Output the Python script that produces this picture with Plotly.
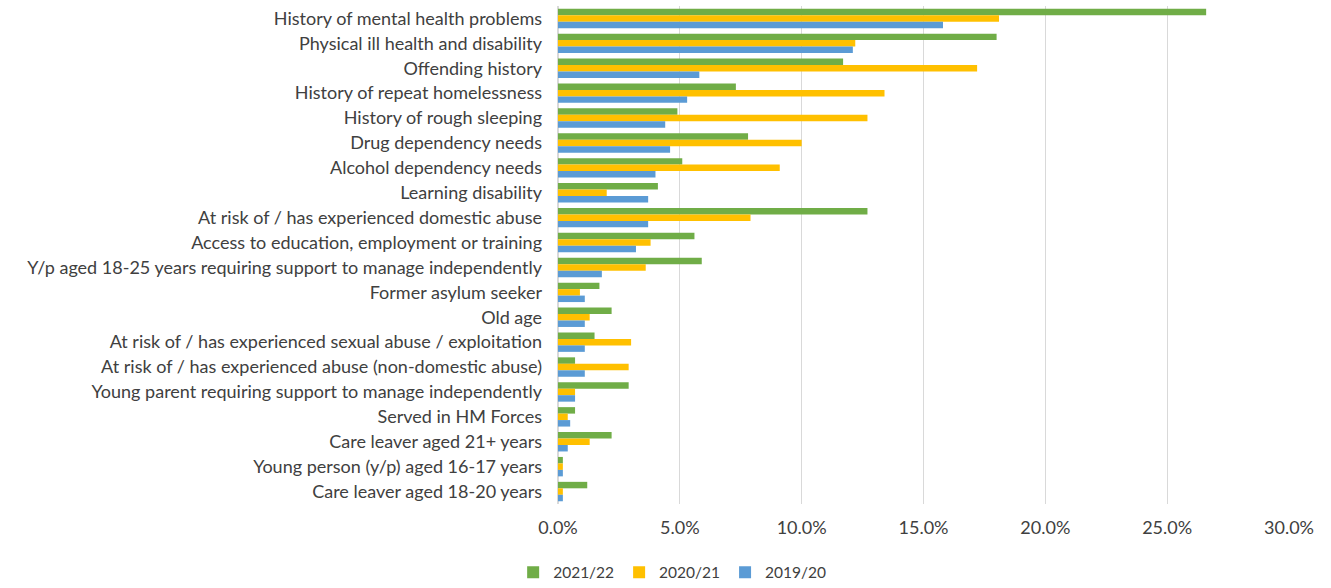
import plotly.graph_objects as go

categories = [
    "History of mental health problems",
    "Physical ill health and disability",
    "Offending history",
    "History of repeat homelessness",
    "History of rough sleeping",
    "Drug dependency needs",
    "Alcohol dependency needs",
    "Learning disability",
    "At risk of / has experienced domestic abuse",
    "Access to education, employment or training",
    "Y/p aged 18-25 years requiring support to manage independently",
    "Former asylum seeker",
    "Old age",
    "At risk of / has experienced sexual abuse / exploitation",
    "At risk of / has experienced abuse (non-domestic abuse)",
    "Young parent requiring support to manage independently",
    "Served in HM Forces",
    "Care leaver aged 21+ years",
    "Young person (y/p) aged 16-17 years",
    "Care leaver aged 18-20 years",
]

y2021_22 = [0.266, 0.180, 0.117, 0.073, 0.049, 0.078, 0.051, 0.041, 0.127, 0.056,
            0.059, 0.017, 0.022, 0.015, 0.007, 0.029, 0.007, 0.022, 0.002, 0.012]
y2020_21 = [0.181, 0.122, 0.172, 0.134, 0.127, 0.100, 0.091, 0.020, 0.079, 0.038,
            0.036, 0.009, 0.013, 0.030, 0.029, 0.007, 0.004, 0.013, 0.002, 0.002]
y2019_20 = [0.158, 0.121, 0.058, 0.053, 0.044, 0.046, 0.040, 0.037, 0.037, 0.032,
            0.018, 0.011, 0.011, 0.011, 0.011, 0.007, 0.005, 0.004, 0.002, 0.002]

series = [
    ("2021/22", y2021_22, "#70AD47"),
    ("2020/21", y2020_21, "#FFC000"),
    ("2019/20", y2019_20, "#5B9BD5"),
]

fig = go.Figure()
for name, vals, col in series:
    fig.add_trace(go.Bar(
        y=categories,
        x=vals,
        name=name,
        orientation="h",
        marker=dict(color=col, line=dict(width=0)),
    ))

font_family = "Lato, Liberation Sans, Arial, sans-serif"

fig.update_layout(
    barmode="group",
    bargap=0.22,
    bargroupgap=0,
    width=1331,
    height=588,
    margin=dict(l=558, r=42, t=6, b=84),
    plot_bgcolor="white",
    paper_bgcolor="white",
    font=dict(family=font_family, size=18, color="#404040"),
    legend=dict(
        orientation="h",
        xref="container", yref="container",
        x=0.505, xanchor="center",
        y=0.026, yanchor="middle",
        font=dict(size=15.5, color="#404040"),
        itemwidth=30,
    ),
)
fig.update_xaxes(
    range=[0, 0.3],
    dtick=0.05,
    tickformat=".1%",
    showgrid=True,
    gridcolor="#D9D9D9",
    zeroline=True,
    zerolinecolor="#D9D9D9",
    ticks="",
    ticklabelstandoff=11,
)
fig.update_yaxes(
    autorange="reversed",
    showgrid=False,
    ticks="",
    ticklabelstandoff=15,
    showline=False,
)

# drop the default body margin so the figure sits at the page corner
fig.write_html("out.html", config={"displayModeBar": False},
               post_script="document.body.style.margin='0';")
